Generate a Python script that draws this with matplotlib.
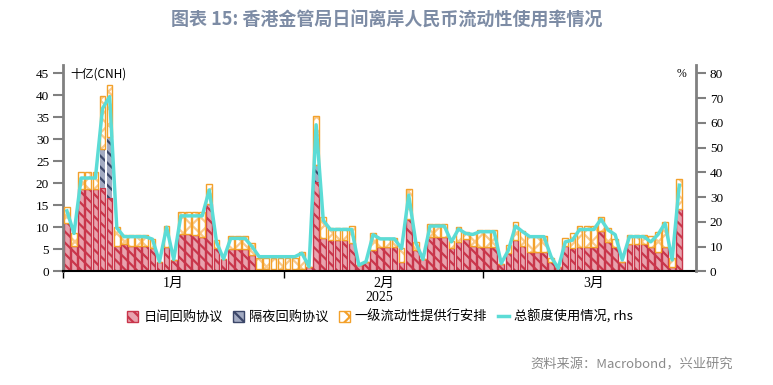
import matplotlib
matplotlib.use("Agg")
import matplotlib.pyplot as plt
import matplotlib.dates as mdates
from matplotlib.patches import Patch
from matplotlib.lines import Line2D
import numpy as np
import pandas as pd

plt.rcParams['font.family'] = ['Noto Sans CJK SC', 'DejaVu Sans']
plt.rcParams['hatch.linewidth'] = 1.6

# ---------------- data ----------------
start_date = "2025-01-01"
n_days = 87
dates = pd.date_range(start_date, periods=n_days, freq="D")

# 日间回购协议 (bn CNH)
intraday_repo = [10.9, 5.7, 18.6, 18.6, 18.6, 19.0, 16.7, 5.7, 6.3, 5.7,
                 5.7, 5.7, 5.3, 2.2, 5.6, 2.6, 8.5, 8.4, 8.3, 7.9,
                 15.4, 5.2, 2.8, 5.1, 5.1, 5.1, 3.7, 0.5, 0.5, 0.5,
                 0.5, 0.5, 0.5, 0.5, 1.05, 20.2, 7.5, 7.2, 7.2, 7.2,
                 6.5, 1.4, 2.2, 4.8, 5.6, 5.6, 5.6, 2.2, 12.0, 4.8,
                 2.7, 7.9, 7.9, 7.9, 5.2, 6.7, 7.3, 5.8, 5.5, 5.5,
                 5.5, 1.7, 4.1, 7.2, 5.8, 4.3, 4.3, 4.3, 2.2, 1.06,
                 5.8, 5.2, 5.6, 5.6, 5.6, 9.2, 6.7, 5.6, 2.2, 6.1,
                 6.1, 6.1, 5.6, 4.5, 5.6, 1.06, 14.2]
# 隔夜回购协议
overnight_repo = [0]*5 + [8.9, 13.8] + [0]*28 + [4.0] + [0]*51
# 一级流动性提供行安排
primary_lp = [3.8, 2.9, 3.9, 3.9, 3.9, 11.9, 11.8, 4.4, 1.9, 2.5,
              2.5, 2.5, 2.0, 0.0, 4.8, 0.0, 4.9, 5.0, 5.1, 5.5,
              4.4, 1.9, 0.0, 2.9, 2.9, 2.9, 2.8, 2.5, 2.5, 2.5,
              2.5, 2.5, 2.5, 4.0, 0.0, 11.1, 4.8, 2.6, 2.6, 2.6,
              3.7, 0.0, 0.0, 4.0, 2.0, 2.0, 2.0, 3.0, 6.8, 1.8,
              0.0, 2.9, 2.9, 2.9, 1.6, 3.3, 1.6, 2.6, 3.9, 3.9,
              3.9, 0.0, 1.9, 4.0, 3.4, 3.8, 3.8, 3.8, 0.8, 0.0,
              1.7, 3.4, 4.6, 4.6, 4.6, 3.2, 3.1, 1.7, 0.0, 2.2,
              2.2, 2.2, 2.5, 4.5, 5.7, 1.94, 6.8]
# 总额度使用情况 (%), rhs
usage_pct = [24.4, 15.3, 37.7, 37.7, 37.7, 65.8, 70.6, 17.6, 14.0, 14.0,
             14.0, 14.0, 13.0, 3.9, 17.8, 4.8, 22.4, 22.4, 22.4, 22.4,
             32.9, 11.9, 5.0, 13.3, 13.3, 13.3, 10.0, 5.9, 5.9, 5.9,
             5.9, 5.9, 5.9, 7.3, 1.9, 59.2, 20.6, 16.9, 16.9, 16.9,
             16.9, 2.5, 3.9, 14.8, 13.1, 13.1, 13.1, 9.2, 30.8, 11.6,
             4.8, 18.3, 18.3, 18.3, 11.9, 17.1, 15.3, 14.9, 16.0, 16.0,
             16.0, 3.2, 8.5, 18.3, 16.0, 14.0, 14.0, 14.0, 5.9, 1.2,
             11.9, 12.6, 16.9, 16.9, 16.9, 21.0, 16.7, 14.8, 4.6, 14.0,
             14.0, 14.0, 11.9, 14.8, 19.4, 4.6, 34.8]

month_labels = ["1月", "2月", "3月"]
left_ticks = [0, 5, 10, 15, 20, 25, 30, 35, 40, 45]
right_ticks = [0, 10, 20, 30, 40, 50, 60, 70, 80]

# ---------------- styles ----------------
RED = '#c9364b'
PINK = '#e8a3ae'
NAVY = '#3c4769'
NAVY_FILL = '#a3abc2'
ORANGE = '#f3a12b'
ORANGE_H = '#f8c98c'
CYAN = '#5cdcd6'
GREY = '#808080'

fig = plt.figure(figsize=(7.73, 3.85), dpi=100)
W, H = 773, 385
ax = fig.add_axes([63 / W, 1 - 271.3 / H, (696 - 63) / W, (271.3 - 65) / H])

x = mdates.date2num(dates) + 0.55
red = np.array(intraday_repo)
nav = np.array(overnight_repo)
org = np.array(primary_lp)
bw = 0.8

ax.bar(x, red, width=bw, color=PINK, edgecolor=RED, hatch='\\\\\\', linewidth=1.0, zorder=2)
ax.bar(x, nav, bottom=red, width=bw, color=NAVY_FILL, edgecolor=NAVY, hatch='\\\\\\', linewidth=0.0, zorder=2)
ax.bar(x, org, bottom=red + nav, width=bw, color='white', edgecolor=ORANGE_H, hatch='xx', linewidth=0.0, zorder=2)
ax.bar(x, org, bottom=red + nav, width=bw, fill=False, edgecolor=ORANGE, linewidth=1.0, zorder=3)

x0 = mdates.date2num(pd.Timestamp(start_date))
ax.set_xlim(x0, x0 + 88.9)
ax.set_ylim(0, 46.9)
ax.set_yticks(left_ticks)
ax.set_yticklabels([str(t) for t in left_ticks], fontfamily='Liberation Serif', fontsize=9.5)

month_starts = pd.date_range("2025-01-01", periods=3, freq="MS")
mids = [mdates.date2num(m) + (15.5 if m.month != 2 else 14) for m in month_starts]
ax.set_xticks(mdates.date2num(month_starts))
ax.set_xticklabels([])
ax.set_xticks(mids, minor=True)
ax.set_xticklabels(month_labels, minor=True, fontsize=10, fontfamily=['Liberation Serif', 'Noto Sans CJK SC'])
ax.tick_params(axis='x', which='minor', length=0, pad=4)
ax.tick_params(axis='x', which='major', length=5, width=1, color='black')
ax.tick_params(axis='y', length=7, width=1.5, color=GREY, pad=3)
ax.set_xlabel('2025', fontfamily='Liberation Serif', fontsize=10, labelpad=1)

for s in ['top', 'right']:
    ax.spines[s].set_visible(False)
ax.spines['left'].set_color(GREY)
ax.spines['left'].set_linewidth(2)
ax.spines['bottom'].set_color('black')
ax.spines['bottom'].set_linewidth(1.5)
ax.spines['bottom'].set_zorder(5)

ax2 = ax.twinx()
ax2.plot(x, usage_pct, color=CYAN, linewidth=2.5, zorder=4)
ax2.set_ylim(0, 46.9 * 80 / 45)
ax2.set_yticks(right_ticks)
ax2.set_yticklabels([str(t) for t in right_ticks], fontfamily='Liberation Serif', fontsize=9.5)
ax2.tick_params(axis='y', length=7, width=1.5, color=GREY, pad=3)
for s in ['top', 'left', 'bottom']:
    ax2.spines[s].set_visible(False)
ax2.spines['right'].set_color(GREY)
ax2.spines['right'].set_linewidth(2)

ax.text(0.012, 0.955, '十亿(CNH)', transform=ax.transAxes, fontsize=8.5, va='center', ha='left')
ax.text(0.985, 0.955, '%', transform=ax.transAxes, fontsize=8.5, va='center', ha='right',
        fontfamily='Liberation Serif')

handles = [
    Patch(facecolor=PINK, edgecolor=RED, hatch='\\\\\\', linewidth=1.0),
    Patch(facecolor=NAVY_FILL, edgecolor=NAVY, hatch='\\\\\\', linewidth=1.0),
    Patch(facecolor='white', edgecolor=ORANGE, hatch='xx', linewidth=1.0),
    Line2D([0], [0], color=CYAN, linewidth=2.5),
]
labels = ['日间回购协议', '隔夜回购协议', '一级流动性提供行安排', '总额度使用情况, rhs']
fig.legend(handles, labels, loc='center', bbox_to_anchor=(380 / W, 1 - 317 / H), ncol=4,
           frameon=False, fontsize=9.5, handlelength=0.8, handleheight=0.8,
           handletextpad=0.4, columnspacing=0.8)

fig.text(0.5, 1 - 20 / H, '图表 15: 香港金管局日间离岸人民币流动性使用率情况', ha='center', va='center',
         fontsize=13, fontweight='bold', color='#7d8ca5')
fig.text(733 / W, 1 - 365 / H, '资料来源：Macrobond，兴业研究', ha='right', va='center',
         fontsize=9.5, color='#8a8a8a')

fig.savefig('out.png', dpi=100)
